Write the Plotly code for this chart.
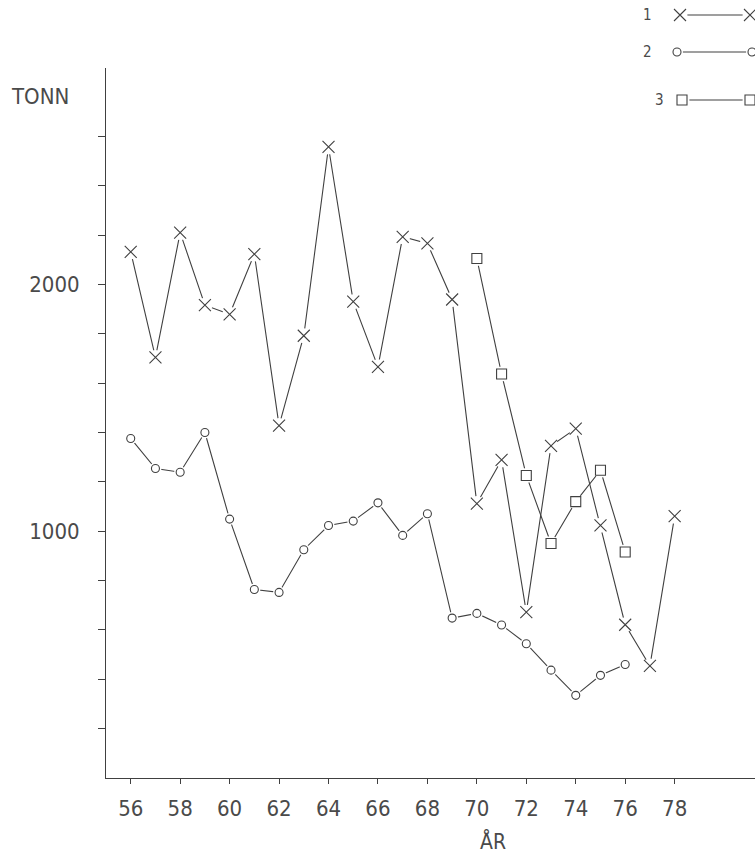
import plotly.graph_objects as go

# ---- data ----
years_1 = list(range(56, 79))
tonn_1 = [2132, 1704, 2210, 1916, 1879, 2123, 1428, 1792, 2557, 1930, 1666, 2193,
          2166, 1939, 1112, 1289, 672, 1346, 1416, 1024, 621, 454, 1061]
years_2 = list(range(56, 77))
tonn_2 = [1376, 1254, 1239, 1400, 1049, 764, 752, 925, 1023, 1041, 1115, 983,
          1071, 648, 667, 620, 544, 437, 335, 416, 460]
years_3 = list(range(70, 77))
tonn_3 = [2105, 1637, 1226, 950, 1120, 1247, 916]
series_labels = ["1", "2", "3"]
x_ticks = list(range(56, 79, 2))
y_ticks = list(range(200, 2601, 200))
y_labelled = [1000, 2000]

INK = "#404040"
TXT = "#4a4a4a"
FONT = "DejaVu Sans Condensed, Liberation Sans Narrow, DejaVu Sans, sans-serif"

styles = [
    dict(symbol="x-thin-open", size=12, mask=15),
    dict(symbol="circle-open", size=8, mask=12),
    dict(symbol="square-open", size=10, mask=15),
]
series = [(years_1, tonn_1), (years_2, tonn_2), (years_3, tonn_3)]

fig = go.Figure()

# legend sample layout (pixel-like second subplot covering the plot area)
leg_text_x = [647, 647, 659]
leg_y = [15, 52, 100]
leg_x0 = [680, 677, 682]
leg_x1 = [750, 752, 750]


def add_series(xs, ys, st, xa="x", ya="y"):
    return [
        go.Scatter(x=xs, y=ys, mode="lines", xaxis=xa, yaxis=ya,
                   line=dict(color=INK, width=1.1), hoverinfo="skip", showlegend=False),
        go.Scatter(x=xs, y=ys, mode="markers", xaxis=xa, yaxis=ya,
                   marker=dict(symbol="circle", size=st["mask"], color="white",
                               line=dict(width=0)), hoverinfo="skip", showlegend=False),
        go.Scatter(x=xs, y=ys, mode="markers", xaxis=xa, yaxis=ya,
                   marker=dict(symbol=st["symbol"], size=st["size"], color=INK,
                               line=dict(color=INK, width=1.1)), showlegend=False),
    ]

layers = [[], [], []]
for (xs, ys), st in zip(series, styles):
    for i, tr in enumerate(add_series(xs, ys, st)):
        layers[i].append(tr)
for layer in layers:
    for tr in layer:
        fig.add_trace(tr)

leg_layers = [[], [], []]
for i, st in enumerate(styles):
    for j, tr in enumerate(add_series([leg_x0[i], leg_x1[i]], [leg_y[i], leg_y[i]], st, "x2", "y2")):
        leg_layers[j].append(tr)
for layer in leg_layers:
    for tr in layer:
        fig.add_trace(tr)

annotations = []
for i, lab in enumerate(series_labels):
    annotations.append(dict(x=leg_text_x[i], y=leg_y[i], xref="x2", yref="y2", text=lab,
                            showarrow=False, xanchor="center", yanchor="middle",
                            font=dict(size=15, color=TXT, family=FONT)))
annotations.append(dict(x=-0.1017, y=0.8766, xref="paper", yref="paper", text="TONN",
                        showarrow=False, xanchor="center", yanchor="middle",
                        font=dict(size=22, color=TXT, family=FONT)))
annotations.append(dict(x=0.5963, y=-0.081, xref="paper", yref="paper", text="ÅR",
                        showarrow=False, xanchor="center", yanchor="middle",
                        font=dict(size=21, color=TXT, family=FONT)))

fig.update_layout(
    width=755, height=854,
    margin=dict(l=106, r=0, t=0, b=76),
    paper_bgcolor="white", plot_bgcolor="rgba(0,0,0,0)",
    font=dict(family=FONT, color=TXT),
    xaxis=dict(range=[55, 81.25], tickvals=x_ticks, ticktext=[str(v) for v in x_ticks],
               showgrid=False, zeroline=False, showline=True, linecolor=INK, linewidth=1,
               ticks="outside", ticklen=5, tickcolor=INK, tickwidth=1,
               tickfont=dict(size=22, color=TXT, family=FONT), ticklabelstandoff=6),
    yaxis=dict(range=[0, 2877], domain=[0, 0.9126], tickvals=y_ticks,
               ticktext=[str(v) if v in y_labelled else "" for v in y_ticks],
               showgrid=False, zeroline=False, showline=True, linecolor=INK, linewidth=1,
               ticks="outside", ticklen=7, tickcolor=INK, tickwidth=1,
               tickfont=dict(size=22, color=TXT, family=FONT), ticklabelstandoff=14),
    xaxis2=dict(range=[106, 755], anchor="y2", visible=False, domain=[0, 1]),
    yaxis2=dict(range=[778, 0], anchor="x2", visible=False, domain=[0, 1]),
    annotations=annotations,
    showlegend=False,
)

fig.write_html("out.html")
